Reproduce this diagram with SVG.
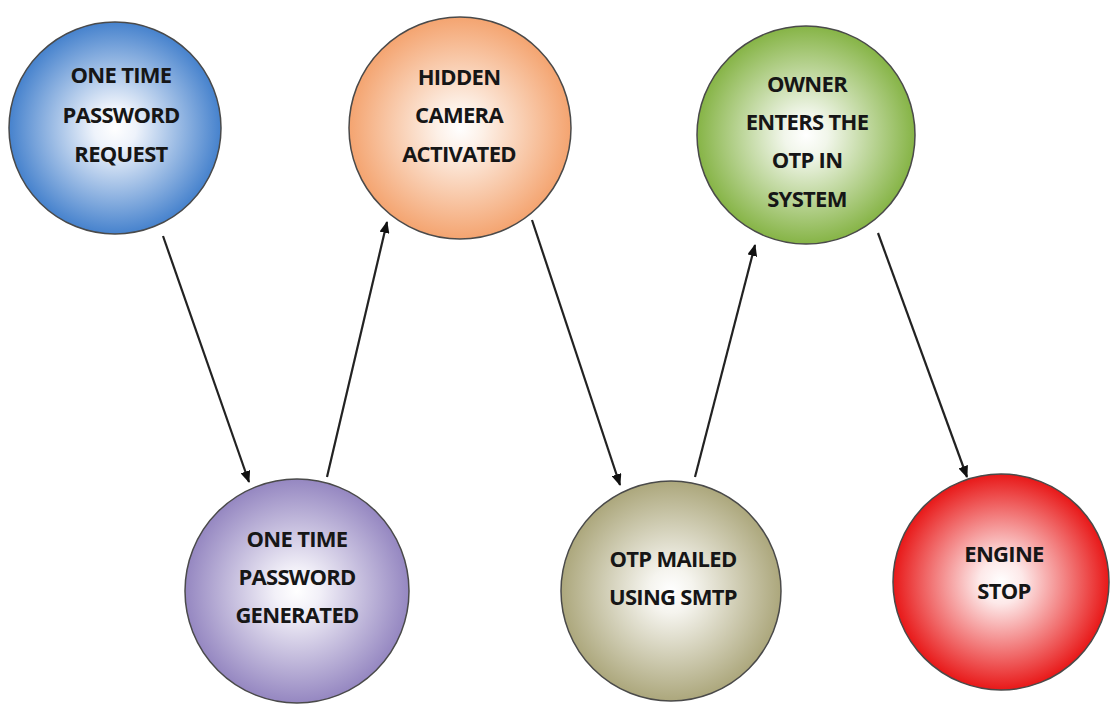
<svg xmlns="http://www.w3.org/2000/svg" width="1111" height="707" viewBox="0 0 1111 707">
<style>
.node{stroke:#4a4a4a;stroke-width:1.5}
.lbl{font-family:"Open Sans","Liberation Sans",sans-serif;font-weight:bold;font-size:22px;letter-spacing:-0.7px;fill:#161616;text-anchor:middle}
.edge{stroke:#222;stroke-width:2.2;fill:none;marker-end:url(#arr)}
</style>
<defs>
<marker id="arr" viewBox="0 0 12 10" refX="11" refY="5" markerWidth="12" markerHeight="10" markerUnits="userSpaceOnUse" orient="auto">
<path d="M0,0 L12,5 L0,10 Z" fill="#111"/>
</marker>
<radialGradient id="gBlue" cx="50%" cy="50%" r="50%"><stop offset="0" stop-color="#ffffff"/><stop offset="0.2" stop-color="#eef3fb"/><stop offset="1" stop-color="#4682cd"/></radialGradient>
<radialGradient id="gOrange" cx="50%" cy="50%" r="50%"><stop offset="0" stop-color="#ffffff"/><stop offset="0.2" stop-color="#fdf1e8"/><stop offset="1" stop-color="#f4a470"/></radialGradient>
<radialGradient id="gGreen" cx="50%" cy="50%" r="50%"><stop offset="0" stop-color="#ffffff"/><stop offset="0.2" stop-color="#f1f6ea"/><stop offset="1" stop-color="#86b446"/></radialGradient>
<radialGradient id="gPurple" cx="50%" cy="50%" r="50%"><stop offset="0" stop-color="#ffffff"/><stop offset="0.2" stop-color="#f2f0f8"/><stop offset="1" stop-color="#9587c1"/></radialGradient>
<radialGradient id="gKhaki" cx="50%" cy="50%" r="50%"><stop offset="0" stop-color="#ffffff"/><stop offset="0.2" stop-color="#f5f4ee"/><stop offset="1" stop-color="#aca77c"/></radialGradient>
<radialGradient id="gRed" cx="50%" cy="50%" r="50%"><stop offset="0" stop-color="#ffffff"/><stop offset="0.2" stop-color="#fde9e9"/><stop offset="1" stop-color="#e81818"/></radialGradient>
</defs>
<rect width="1111" height="707" fill="#ffffff"/>
<g id="connectors">
<line class="edge" x1="163" y1="236" x2="249" y2="482"/>
<line class="edge" x1="327" y1="477" x2="387" y2="222"/>
<line class="edge" x1="532" y1="220" x2="620" y2="485"/>
<line class="edge" x1="695" y1="477" x2="755" y2="245"/>
<line class="edge" x1="878" y1="233" x2="967" y2="477"/>
</g>
<g id="n1">
<circle class="node" cx="115" cy="128" r="106" fill="url(#gBlue)"/>
<text class="lbl" x="121" y="83">ONE TIME</text>
<text class="lbl" x="121" y="123">PASSWORD</text>
<text class="lbl" x="121" y="162">REQUEST</text>
</g>
<g id="n2">
<circle class="node" cx="297" cy="591" r="112" fill="url(#gPurple)"/>
<text class="lbl" x="297" y="547">ONE TIME</text>
<text class="lbl" x="297" y="585">PASSWORD</text>
<text class="lbl" x="297" y="623">GENERATED</text>
</g>
<g id="n3">
<circle class="node" cx="460" cy="128" r="111" fill="url(#gOrange)"/>
<text class="lbl" x="459" y="85">HIDDEN</text>
<text class="lbl" x="459" y="123">CAMERA</text>
<text class="lbl" x="459" y="162">ACTIVATED</text>
</g>
<g id="n4">
<circle class="node" cx="671" cy="591" r="110" fill="url(#gKhaki)"/>
<text class="lbl" x="673" y="567">OTP MAILED</text>
<text class="lbl" x="673" y="605">USING SMTP</text>
</g>
<g id="n5">
<circle class="node" cx="806" cy="135" r="109" fill="url(#gGreen)"/>
<text class="lbl" x="807" y="92">OWNER</text>
<text class="lbl" x="807" y="130">ENTERS THE</text>
<text class="lbl" x="807" y="168">OTP IN</text>
<text class="lbl" x="807" y="207">SYSTEM</text>
</g>
<g id="n6">
<circle class="node" cx="1001" cy="582" r="108" fill="url(#gRed)" stroke="#7a1010"/>
<text class="lbl" x="1004" y="562">ENGINE</text>
<text class="lbl" x="1004" y="599">STOP</text>
</g>
</svg>
